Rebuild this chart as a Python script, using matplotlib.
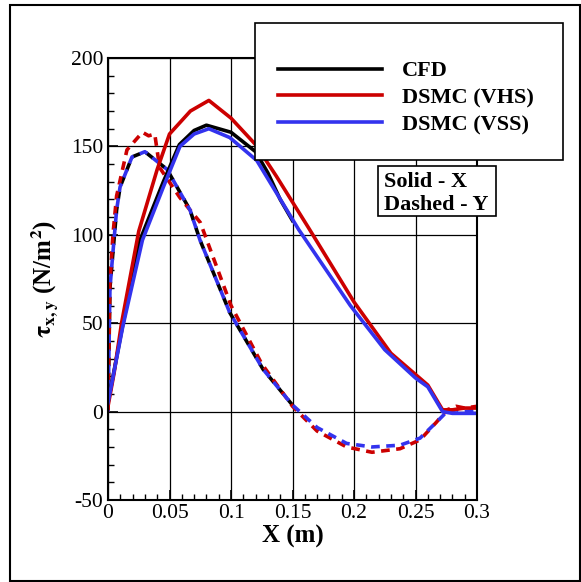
import matplotlib
matplotlib.use("Agg")
import matplotlib.pyplot as plt
from matplotlib.patches import Rectangle
from matplotlib.ticker import MultipleLocator

plt.rcParams['font.family'] = ['Liberation Serif', 'DejaVu Serif']
plt.rcParams['mathtext.fontset'] = 'stix'
plt.rcParams['axes.unicode_minus'] = False

# solid lines: tau_x
cfd_x_pos = [0, 0.012, 0.026, 0.045, 0.058, 0.07, 0.08, 0.1, 0.12, 0.13, 0.14, 0.15]
cfd_x_val = [5, 49, 97, 130, 151, 159, 162, 158, 147, 135, 120, 108]

vhs_x_pos = [0, 0.005, 0.011, 0.025, 0.04, 0.05, 0.067, 0.082, 0.1, 0.12, 0.137,
             0.163, 0.2, 0.23, 0.25, 0.26, 0.272, 0.28, 0.29, 0.3]
vhs_x_val = [3, 22, 50, 102, 137, 157, 170, 176, 166, 151, 133,
             104, 62, 33, 21, 15, 1, 1, 2, 2]

vss_x_pos = [0, 0.012, 0.028, 0.045, 0.0585, 0.07, 0.082, 0.099, 0.121, 0.155,
             0.197, 0.225, 0.25, 0.26, 0.272, 0.28, 0.29, 0.3]
vss_x_val = [5, 48, 97, 127, 150, 157, 160, 155, 142, 103,
             60, 35, 19, 14, 0, -1, -1, -1]

# dashed lines: tau_y
cfd_y_pos = [0, 0.0016, 0.004, 0.007, 0.0098, 0.0195, 0.03, 0.048, 0.0667,
             0.0748, 0.099, 0.126, 0.1496]
cfd_y_val = [0, 70, 90, 114, 127, 144, 147, 137, 114, 97, 56, 24, 4]

vhs_y_pos = [0, 0.0015, 0.004, 0.007, 0.0154, 0.028, 0.033, 0.038, 0.042, 0.0585,
             0.075, 0.1, 0.125, 0.15, 0.17, 0.194, 0.2146, 0.2374, 0.2537,
             0.267, 0.2756, 0.283, 0.29, 0.3]
vhs_y_val = [0, 72, 100, 122, 148, 158, 156, 157, 138, 121,
             107, 60, 27, 3, -11, -20, -23, -21, -16,
             -6, 1, 3, 2, 3]

vss_y_pos = [0, 0.0016, 0.004, 0.007, 0.0098, 0.0195, 0.03, 0.048, 0.0667,
             0.0748, 0.099, 0.126, 0.1496, 0.17, 0.194, 0.2146, 0.2374,
             0.2537, 0.267, 0.2756, 0.283, 0.29, 0.3]
vss_y_val = [0, 70, 90, 114, 127, 144, 147, 137, 114, 97, 56, 24, 4,
             -9, -18, -20, -19, -15, -6, 0, 1, 0, 1]

fig = plt.figure(figsize=(5.81, 5.82), dpi=100)
ax = fig.add_axes([108/581, 1-500/582, 369/581, 442/582])

lw = 2.6
ax.plot(cfd_y_pos, cfd_y_val, color='black', lw=lw, ls=(0, (2.4, 1.8)))
ax.plot(vhs_y_pos, vhs_y_val, color='#cc0000', lw=lw, ls=(0, (2.4, 1.8)))
ax.plot(vss_y_pos, vss_y_val, color='#3333ee', lw=lw, ls=(2.0, (2.4, 1.8)))

l1, = ax.plot(cfd_x_pos, cfd_x_val, color='black', lw=lw)
l2, = ax.plot(vhs_x_pos, vhs_x_val, color='#cc0000', lw=lw)
l3, = ax.plot(vss_x_pos, vss_x_val, color='#3333ee', lw=lw)

ax.set_xlim(0, 0.3)
ax.set_ylim(-50, 200)
ax.xaxis.set_minor_locator(MultipleLocator(0.01))
ax.yaxis.set_major_locator(MultipleLocator(50))
ax.yaxis.set_minor_locator(MultipleLocator(10))
ax.set_xticks([0, 0.05, 0.1, 0.15, 0.2, 0.25, 0.3])
ax.set_xticklabels(['0', '0.05', '0.1', '0.15', '0.2', '0.25', '0.3'])
ax.tick_params(which='both', direction='in', labelsize=15.5, colors='black')
ax.tick_params(which='major', length=7, width=1.2)
ax.tick_params(which='minor', length=4, width=1)
ax.tick_params(axis='x', pad=3)
ax.grid(True, which='major', color='black', lw=0.9)
for s in ax.spines.values():
    s.set_linewidth(1.5)

ax.set_xlabel('X (m)', fontsize=18, fontweight='bold', labelpad=1)
ax.set_ylabel(r'$\mathbf{\tau_{x,y}}$ (N/m$^\mathbf{2}$)', fontsize=18,
              fontweight='bold', labelpad=8)

# legend box
fig.patches.append(Rectangle((255/581, 1-160/582), 308/581, 137/582,
                             transform=fig.transFigure, facecolor='white',
                             edgecolor='black', lw=1.2, zorder=4))
fig.legend([l1, l2, l3], ['CFD', 'DSMC (VHS)', 'DSMC (VSS)'],
           loc='upper left', bbox_to_anchor=(269/581, 1-52/582),
           frameon=False, handlelength=4.7, handletextpad=0.9,
           labelspacing=0.28, borderaxespad=0,
           prop={'size': 16, 'weight': 'bold'})

# Solid / Dashed note
fig.patches.append(Rectangle((378/581, 1-216/582), 118/581, 50/582,
                             transform=fig.transFigure, facecolor='white',
                             edgecolor='black', lw=1.2, zorder=4))
fig.text(384/581, 1-187/582, 'Solid - X', fontsize=16, fontweight='bold',
         va='baseline', ha='left', zorder=5)
fig.text(384/581, 1-210/582, 'Dashed - Y', fontsize=16, fontweight='bold',
         va='baseline', ha='left', zorder=5)

# outer frame
fig.patches.append(Rectangle((10/581, 1/582), 570/581, 576/582,
                             transform=fig.transFigure, fill=False,
                             edgecolor='black', lw=1.5, zorder=6))

fig.savefig('out.png', dpi=100)
